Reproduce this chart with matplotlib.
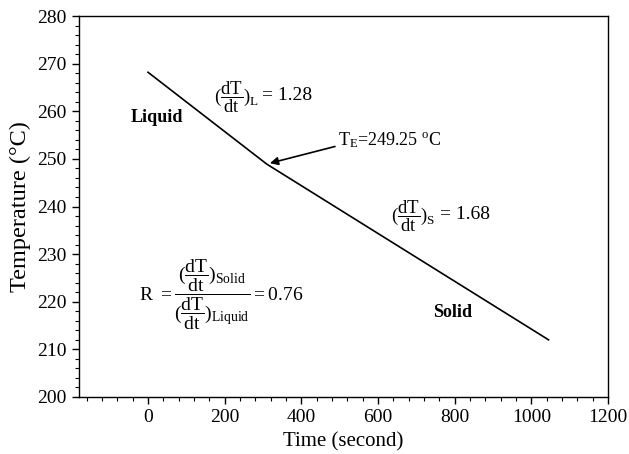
import matplotlib
matplotlib.use("Agg")
import matplotlib.pyplot as plt
from matplotlib.ticker import MultipleLocator

plt.rcParams['font.family'] = ['Liberation Serif', 'DejaVu Serif']
plt.rcParams['mathtext.fontset'] = 'custom'
plt.rcParams['mathtext.rm'] = 'Liberation Serif'
plt.rcParams['mathtext.it'] = 'Liberation Serif'
plt.rcParams['mathtext.bf'] = 'Liberation Serif:bold'

# data
time_s = [0, 310, 1045]
temp_c = [268.2, 248.9, 212.0]
eutectic_point = (318, 249.1)
x_ticks = [0, 200, 400, 600, 800, 1000, 1200]
y_ticks = [200, 210, 220, 230, 240, 250, 260, 270, 280]

fig = plt.figure(figsize=(6.29, 4.54), dpi=100)
ax = fig.add_axes([0.1256, 0.1256, 0.841, 0.839])
ax.plot(time_s, temp_c, color='black', lw=1.2)

ax.set_xlim(-180, 1200)
ax.set_ylim(200, 280)
ax.set_xticks(x_ticks)
ax.set_yticks(y_ticks)
ax.xaxis.set_minor_locator(MultipleLocator(40))
ax.yaxis.set_minor_locator(MultipleLocator(2))
ax.tick_params(axis='both', which='major', direction='out', length=5, width=1, labelsize=14, pad=4)
ax.tick_params(axis='both', which='minor', direction='out', length=3, width=0.8)
for s in ax.spines.values():
    s.set_linewidth(1.0)

ax.set_xlabel('Time (second)', fontsize=15, labelpad=4)
ax.set_ylabel('Temperature (°C)', fontsize=17.5, labelpad=4)

ax.text(23, 258.6, 'Liquid', fontsize=13, fontweight='bold', ha='center', va='center')
ax.text(795, 217.8, 'Solid', fontsize=13, fontweight='bold', ha='center', va='center')

ax.text(171, 263, r'$(\dfrac{\mathrm{dT}}{\mathrm{dt}})_{\mathrm{L}}$', fontsize=13.5,
        ha='left', va='center')
ax.text(298, 263.3, '= 1.28', fontsize=14, ha='left', va='center')
ax.text(635, 238, r'$(\dfrac{\mathrm{dT}}{\mathrm{dt}})_{\mathrm{S}}$', fontsize=13.5,
        ha='left', va='center')
ax.text(763, 238.3, '= 1.68', fontsize=14, ha='left', va='center')
ax.text(-24, 221.4,
        r'$\mathrm{R}\ = \dfrac{(\dfrac{\mathrm{dT}}{\mathrm{dt}})_{\mathrm{Solid}}}{(\dfrac{\mathrm{dT}}{\mathrm{dt}})_{\mathrm{Liquid}}} = 0.76$',
        fontsize=14, ha='left', va='center')

ax.annotate(r'T$_{\mathrm{E}}$=249.25 $^{\mathrm{o}}$C', xy=eutectic_point, xytext=(495, 254),
            fontsize=13, ha='left', va='center',
            arrowprops=dict(arrowstyle='-|>', color='black', lw=1.2,
                            mutation_scale=12, shrinkA=0, shrinkB=0,
                            relpos=(0, 0.2)))

fig.savefig('out.png', dpi=100)
